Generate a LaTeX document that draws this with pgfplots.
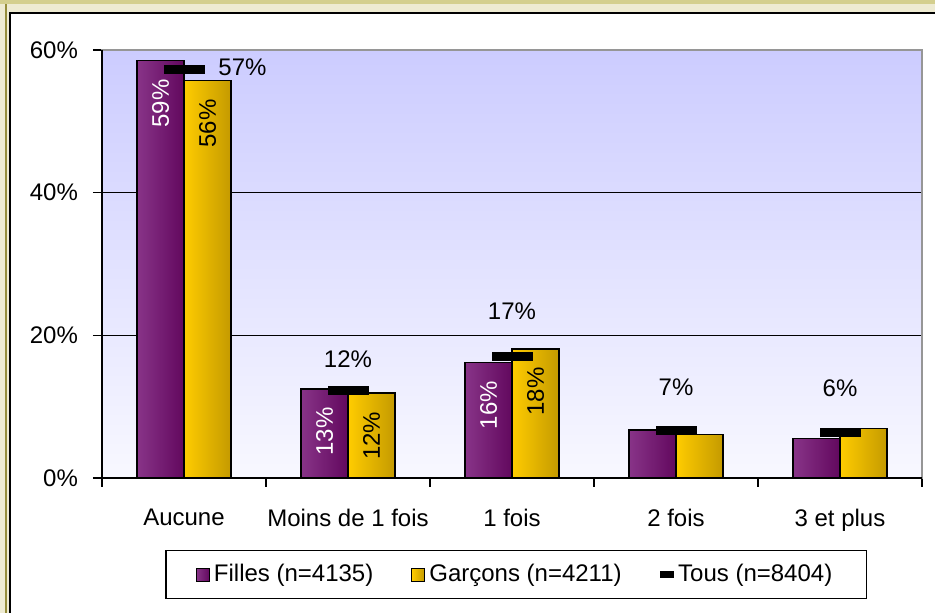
\documentclass[border=0pt]{standalone}
\usepackage{pgfplots}
\usepackage{pgfplotstable}
\pgfplotsset{compat=1.18}
\usepackage{fontspec}
\setmainfont{Liberation Sans}
\definecolor{khaki}{RGB}{212,207,142}
\definecolor{cream}{RGB}{238,235,210}
\definecolor{olivel}{RGB}{150,142,60}
\definecolor{lavtop}{RGB}{204,204,255}
\definecolor{lavbot}{RGB}{248,248,255}
\definecolor{purL}{RGB}{136,52,136}
\definecolor{purR}{RGB}{98,8,94}
\definecolor{golL}{RGB}{255,204,0}
\definecolor{golR}{RGB}{196,154,0}
\definecolor{framegray}{RGB}{150,150,150}

\pgfplotstableread{
x y lab
0 58.5 59\%
1 12.5 13\%
2 16.2 16\%
3 6.72 {}
4 5.56 {}
}\filles
\pgfplotstableread{
x y lab
0 55.7 56\%
1 11.9 12\%
2 18.1 18\%
3 6.12 {}
4 6.96 {}
}\garcons
\pgfplotstableread{
x y lab xo yo
0 57.2 57\% 29.25 1.5
1 12.25 12\% 0 15.75
2 17.0 17\% 0 22.5
3 6.65 7\% 0 21.5
4 6.33 6\% 0 22.4
}\tous

\newcommand{\fs}{\fontsize{12}{14}\selectfont}

\pgfplotsset{
  fbar/.style={ybar, bar width=23.5pt, bar shift=-11.75pt, draw=black, line width=0.75pt,
    left color=purL, right color=purR},
  gbar/.style={ybar, bar width=23.5pt, bar shift=11.75pt, draw=black, line width=0.75pt,
    left color=golL, right color=golR},
}

\begin{document}
\begin{tikzpicture}
\useasboundingbox (0,0) rectangle (467.5pt,306.5pt);
\fill[cream] (0,0) rectangle (467.5pt,306.5pt);
\fill[khaki] (0,304.5pt) rectangle (467.5pt,306.5pt);
\fill[olivel] (2.5pt,0) rectangle (3.5pt,304.5pt);
\fill[white] (5pt,0) rectangle (467.5pt,300pt);
\draw[black,line width=1pt] (5pt,-2pt) -- (5pt,300pt) -- (470pt,300pt);
\begin{axis}[
  at={(51pt,67.5pt)}, anchor=south west,
  scale only axis, width=410pt, height=214pt,
  xmin=-0.5, xmax=4.5, ymin=0, ymax=60,
  xtick={-0.5,0.5,1.5,2.5,3.5,4.5},
  x tick label as interval,
  xticklabels={Aucune,Moins de 1 fois,1 fois,2 fois,3 et plus},
  xticklabel style={yshift=-7.5pt},
  ytick={0,20,40,60}, yticklabels={0\%,20\%,40\%,60\%},
  yticklabel style={xshift=-4pt},
  ymajorgrids, grid style={black, line width=0.6pt},
  tick align=outside, major tick length=4.5pt,
  xtick pos=bottom, ytick pos=left,
  tick style={black, line width=0.75pt},
  axis line style={framegray, line width=1pt},
  axis background/.style={top color=lavtop, bottom color=lavbot},
  tick label style={font=\fs},
  clip=false,
  legend style={at={(axis description cs:0.505,-0.2255)}, anchor=center,
    draw=black, line width=0.75pt, fill=white, font=\fs,
    legend columns=3,
    /tikz/every even column/.append style={column sep=17pt},
    inner xsep=15pt, inner ysep=5pt},
  after end axis/.code={\draw[black, line width=0.75pt] (rel axis cs:0,1) -- (rel axis cs:0,0) -- (rel axis cs:1,0);},
]
\addlegendimage{legend image code/.code={\draw[black, line width=0.5pt, left color=purL, right color=purR] (0pt,-3.25pt) rectangle (6.5pt,3.25pt);}}
\addlegendentry{Filles (n=4135)}
\addlegendimage{legend image code/.code={\draw[black, line width=0.5pt, left color=golL, right color=golR] (0pt,-3.25pt) rectangle (6.5pt,3.25pt);}}
\addlegendentry{Garçons (n=4211)}
\pgfplotsinvokeforeach{0,1,2,3,4}{
\addplot[fbar, forget plot, restrict x to domain=#1:#1,
  point meta=explicit symbolic, nodes near coords,
  every node near coord/.style={font=\fs, text=white, xshift=-11.75pt, yshift=-9pt, rotate=90, anchor=east, inner sep=0pt}]
  table[x=x,y=y,meta=lab]{\filles};
\addplot[gbar, forget plot, restrict x to domain=#1:#1,
  point meta=explicit symbolic, nodes near coords,
  every node near coord/.style={font=\fs, text=black, xshift=11.75pt, yshift=-9pt, rotate=90, anchor=east, inner sep=0pt}]
  table[x=x,y=y,meta=lab]{\garcons};
}
\addplot[only marks, mark=-, mark size=10.25pt, mark options={line width=4.5pt, black},
  point meta=explicit symbolic, nodes near coords,
  visualization depends on={\thisrow{xo}\as\xo},
  visualization depends on={\thisrow{yo}\as\yo},
  every node near coord/.style={font=\fs, text=black, xshift=\xo pt, yshift=\yo pt, anchor=center, inner sep=0pt},
  legend image code/.code={\fill[black] (0pt,-1.25pt) rectangle (6.5pt,1.25pt);}]
  table[x=x,y=y,meta=lab]{\tous};
\addlegendentry{Tous (n=8404)}
\end{axis}
\end{tikzpicture}
\end{document}
